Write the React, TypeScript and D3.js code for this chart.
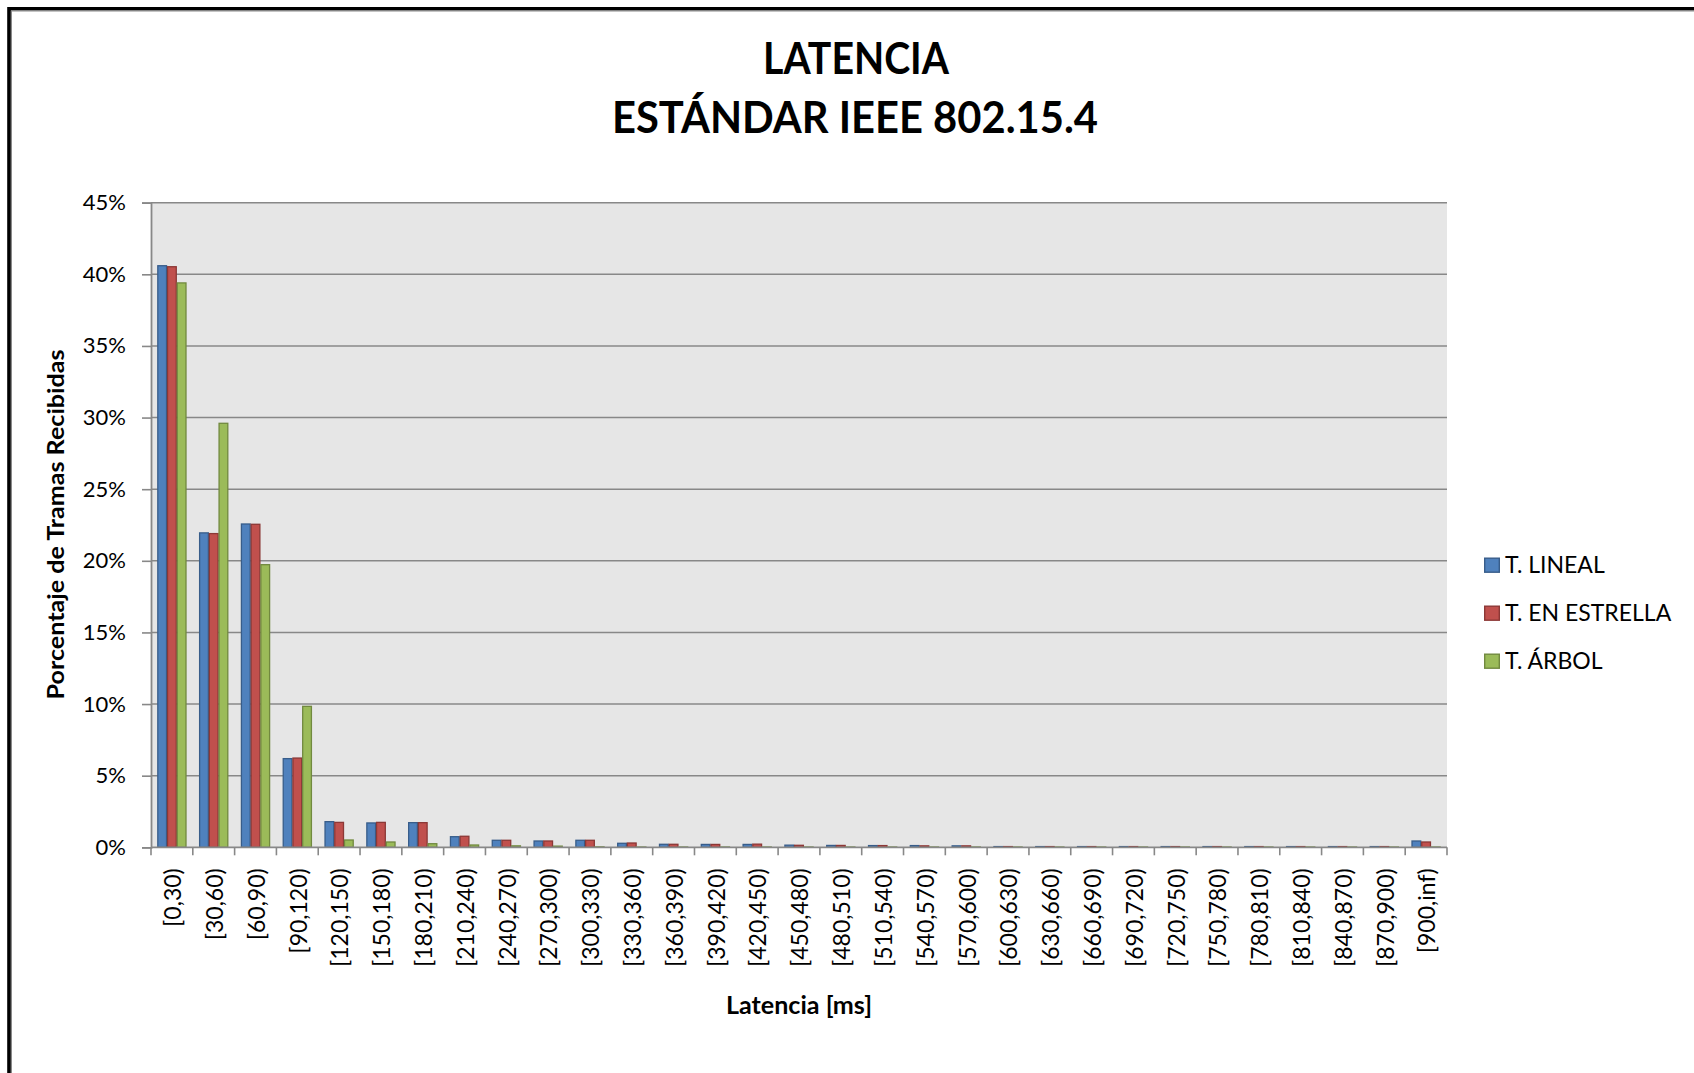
import React, { useRef, useEffect } from 'react';
import * as d3 from 'd3';

// Latency bins (ms)
const categories = [
  '[0,30)', '[30,60)', '[60,90)', '[90,120)', '[120,150)', '[150,180)', '[180,210)',
  '[210,240)', '[240,270)', '[270,300)', '[300,330)', '[330,360)', '[360,390)',
  '[390,420)', '[420,450)', '[450,480)', '[480,510)', '[510,540)', '[540,570)',
  '[570,600)', '[600,630)', '[630,660)', '[660,690)', '[690,720)', '[720,750)',
  '[750,780)', '[780,810)', '[810,840)', '[840,870)', '[870,900)', '[900,inf)'
];

// Porcentaje de tramas recibidas (%)
const lineal = [
  40.6, 21.95, 22.57, 6.19, 1.79, 1.7, 1.72, 0.74, 0.49, 0.44, 0.49, 0.28, 0.21,
  0.2, 0.2, 0.15, 0.13, 0.12, 0.12, 0.1, 0.05, 0.05, 0.05, 0.05, 0.05, 0.05, 0.05,
  0.05, 0.05, 0.05, 0.44
];
const estrella = [
  40.53, 21.9, 22.55, 6.23, 1.74, 1.74, 1.72, 0.77, 0.49, 0.44, 0.49, 0.3, 0.21,
  0.2, 0.22, 0.14, 0.13, 0.12, 0.1, 0.1, 0.05, 0.05, 0.05, 0.05, 0.05, 0.05, 0.05,
  0.05, 0.05, 0.05, 0.37
];
const arbol = [
  39.4, 29.6, 19.73, 9.84, 0.51, 0.37, 0.25, 0.16, 0.1, 0.08, 0.03, 0.02, 0.02,
  0.02, 0.02, 0.02, 0.02, 0.02, 0.02, 0.02, 0.02, 0.02, 0.02, 0.02, 0.02, 0.02, 0.02,
  0.02, 0.02, 0.02, 0.02
];

const seriesNames = ['T. LINEAL', 'T. EN ESTRELLA', 'T. ÁRBOL'];
const yTicks = [0, 5, 10, 15, 20, 25, 30, 35, 40, 45];

const fills = ['#4F81BD', '#C0504D', '#9BBB59'];
const strokes = ['#385D8A', '#8C3836', '#71893F'];

const FONT = 'Lato, "Open Sans", sans-serif';

const App: React.FC = () => {
  const svgRef = useRef<SVGSVGElement>(null);
  const width = 1694;
  const height = 1073;

  useEffect(() => {
    if (!svgRef.current) return;
    const svg = d3.select(svgRef.current);
    svg.selectAll('*').remove();

    // plot area
    const left = 151;
    const right = 1447;
    const top = 202.7;
    const bottom = 847.3;

    const series = [lineal, estrella, arbol];

    const x0 = d3.scaleBand<string>().domain(categories).range([left, right]).padding(0);
    const bw = x0.bandwidth();
    const x1 = d3.scaleBand<number>().domain([0, 1, 2]).range([bw * 0.151, bw * 0.849]).padding(0);
    const y = d3.scaleLinear().domain([0, 45]).range([bottom, top]);

    // frame
    svg.append('path')
      .attr('d', `M9,${height + 5} L9,8.7 L${width + 5},8.7`)
      .attr('fill', 'none')
      .attr('stroke', '#000')
      .attr('stroke-width', 3.6);
    svg.append('path')
      .attr('d', `M11.5,${height + 5} L11.5,11 L${width + 5},11`)
      .attr('fill', 'none')
      .attr('stroke', '#8a8a8a')
      .attr('stroke-width', 1);

    // titles
    svg.append('text')
      .attr('x', 856)
      .attr('y', 74)
      .attr('text-anchor', 'middle')
      .attr('textLength', 186)
      .attr('lengthAdjust', 'spacingAndGlyphs')
      .style('font-family', FONT)
      .style('font-weight', 'bold')
      .style('font-size', '43px')
      .style('fill', '#000')
      .text('LATENCIA');
    svg.append('text')
      .attr('x', 855)
      .attr('y', 133)
      .attr('text-anchor', 'middle')
      .attr('textLength', 486)
      .attr('lengthAdjust', 'spacingAndGlyphs')
      .style('font-family', FONT)
      .style('font-weight', 'bold')
      .style('font-size', '43px')
      .style('fill', '#000')
      .text('ESTÁNDAR IEEE 802.15.4');

    // plot background
    svg.append('rect')
      .attr('x', left)
      .attr('y', top)
      .attr('width', right - left)
      .attr('height', bottom - top)
      .attr('fill', '#E6E6E6');

    // grid lines
    svg.append('g')
      .selectAll('line')
      .data(yTicks.filter(t => t > 0))
      .enter()
      .append('line')
      .attr('x1', left)
      .attr('x2', right)
      .attr('y1', d => y(d))
      .attr('y2', d => y(d))
      .attr('stroke', '#888888')
      .attr('stroke-width', 1.6);

    // bars
    categories.forEach((c, i) => {
      series.forEach((s, k) => {
        const v = s[i];
        svg.append('rect')
          .attr('x', (x0(c) as number) + (x1(k) as number) + 0.5)
          .attr('y', y(v))
          .attr('width', x1.bandwidth() - 1)
          .attr('height', Math.max(0, bottom - y(v)))
          .attr('fill', fills[k])
          .attr('stroke', strokes[k])
          .attr('stroke-width', 1.3);
      });
    });

    // y axis
    const yAxis = svg.append('g')
      .attr('transform', `translate(${left},0)`)
      .call(d3.axisLeft(y).tickValues(yTicks).tickSize(9).tickPadding(16).tickFormat(d => `${d}%`));
    yAxis.select('.domain').attr('stroke', '#888888').attr('stroke-width', 1.8);
    yAxis.selectAll('.tick line').attr('stroke', '#888888').attr('stroke-width', 1.6);
    yAxis.selectAll('.tick text')
      .style('font-family', FONT)
      .style('font-size', '22px')
      .style('fill', '#000');

    // x axis
    const xAxisG = svg.append('g');
    xAxisG.append('line')
      .attr('x1', left)
      .attr('x2', right)
      .attr('y1', bottom)
      .attr('y2', bottom)
      .attr('stroke', '#888888')
      .attr('stroke-width', 1.8);
    const boundaries = [...categories.map(c => x0(c) as number), right];
    xAxisG.selectAll('.xtick')
      .data(boundaries)
      .enter()
      .append('line')
      .attr('class', 'xtick')
      .attr('x1', d => d)
      .attr('x2', d => d)
      .attr('y1', bottom)
      .attr('y2', bottom + 8)
      .attr('stroke', '#888888')
      .attr('stroke-width', 1.6);
    xAxisG.selectAll('.xlabel')
      .data(categories)
      .enter()
      .append('text')
      .attr('class', 'xlabel')
      .attr('transform', d => `translate(${(x0(d) as number) + bw / 2 + 1},${bottom + 21}) rotate(-90)`)
      .attr('text-anchor', 'end')
      .attr('dy', '0.36em')
      .style('font-family', FONT)
      .style('font-size', '23px')
      .style('fill', '#000')
      .text(d => d);

    // axis titles
    svg.append('text')
      .attr('x', (left + right) / 2)
      .attr('y', 1014)
      .attr('text-anchor', 'middle')
      .attr('textLength', 146)
      .attr('lengthAdjust', 'spacingAndGlyphs')
      .style('font-family', FONT)
      .style('font-weight', 'bold')
      .style('font-size', '24px')
      .style('fill', '#000')
      .text('Latencia [ms]');
    svg.append('text')
      .attr('transform', `translate(64,524.5) rotate(-90)`)
      .attr('text-anchor', 'middle')
      .attr('textLength', 350)
      .attr('lengthAdjust', 'spacingAndGlyphs')
      .style('font-family', FONT)
      .style('font-weight', 'bold')
      .style('font-size', '23px')
      .style('fill', '#000')
      .text('Porcentaje de Tramas Recibidas');

    // legend
    const legend = svg.selectAll('.legend')
      .data(seriesNames)
      .enter()
      .append('g')
      .attr('class', 'legend')
      .attr('transform', (_d, i) => `translate(1484, ${557.5 + i * 48})`);
    legend.append('rect')
      .attr('x', 0.7)
      .attr('y', 0.7)
      .attr('width', 14.6)
      .attr('height', 14)
      .attr('fill', (_d, i) => fills[i])
      .attr('stroke', (_d, i) => strokes[i])
      .attr('stroke-width', 1.4);
    legend.append('text')
      .attr('x', 21)
      .attr('y', 15)
      .style('font-family', FONT)
      .style('font-size', '23px')
      .style('fill', '#000')
      .text(d => d);
  }, []);

  return (
    <svg
      ref={svgRef}
      width={width}
      height={height}
      viewBox={`0 0 ${width} ${height}`}
      style={{ position: 'absolute', left: 0, top: 0, display: 'block', background: '#fff' }}
    ></svg>
  );
};

export default App;
